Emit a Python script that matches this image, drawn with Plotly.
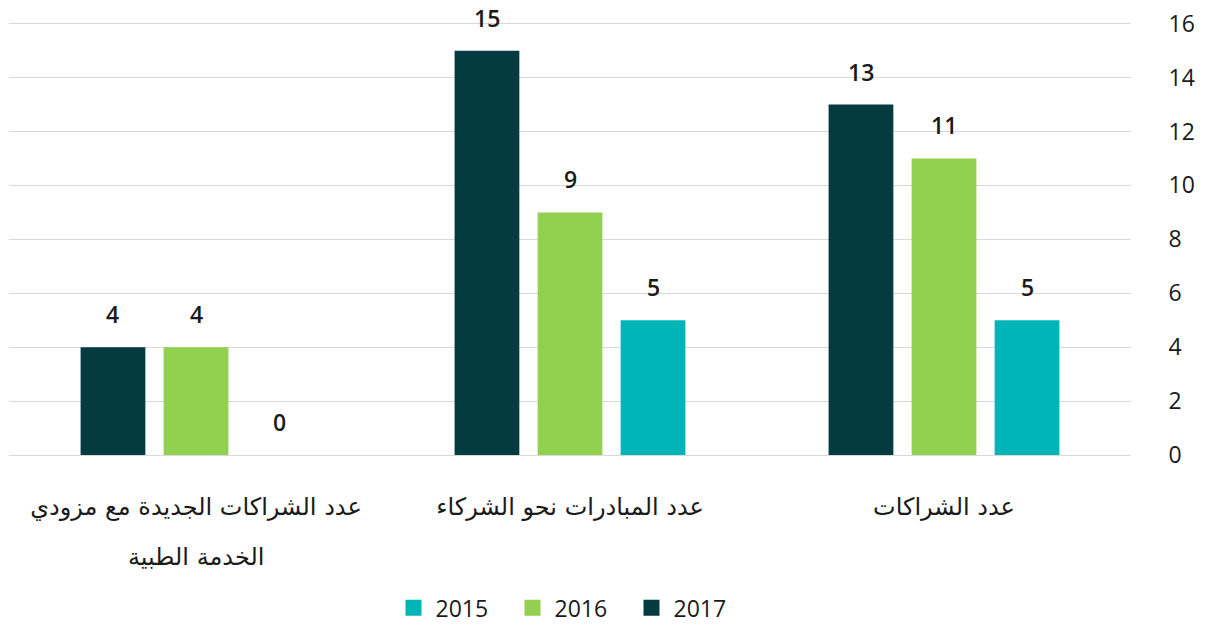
import plotly.graph_objects as go

categories = ["عدد الشراكات", "عدد المبادرات نحو الشركاء", "عدد الشراكات الجديدة مع مزودي<br>الخدمة الطبية"]
years = ["2015", "2016", "2017"]
values_2015 = [5, 5, 0]
values_2016 = [11, 9, 4]
values_2017 = [13, 15, 4]
y_ticks = [0, 2, 4, 6, 8, 10, 12, 14, 16]

series = {"2015": values_2015, "2016": values_2016, "2017": values_2017}
colors = {"2015": "#00b5b8", "2016": "#92d050", "2017": "#033b40"}

BARGAP = 0.334
n = len(years)
slot = (1 - BARGAP) / n

fig = go.Figure()
annotations = []
for k, yr in enumerate(years):
    fig.add_trace(go.Bar(
        x=list(range(len(categories))), y=series[yr], name=yr, showlegend=False,
        marker=dict(color=colors[yr], line=dict(width=0)),
    ))
    off = -(1 - BARGAP) / 2 + slot / 2 + k * slot
    for i, v in enumerate(series[yr]):
        annotations.append(dict(
            x=i + off, y=v, xref="x", yref="y", text=str(v), showarrow=False,
            yshift=33, font=dict(size=23, color="#1a1a1a", family="Open Sans", weight=600),
            yanchor="middle",
        ))

# legend entries with larger square swatches
for yr in years:
    fig.add_trace(go.Scatter(
        x=[None], y=[None], mode="markers", name=yr,
        marker=dict(symbol="square", size=20, color=colors[yr]),
    ))

# category labels: first line as tick text, following lines as annotations below
first_lines = [c.split("<br>")[0] for c in categories]
for i, c in enumerate(categories):
    for j, line in enumerate(c.split("<br>")[1:], start=1):
        annotations.append(dict(
            x=i, y=-0.236 - (j - 1) * 0.111, xref="x", yref="paper", text=line,
            showarrow=False, yanchor="middle",
            font=dict(size=24, color="#1a1a1a", family="DejaVu Sans"),
        ))

fig.update_layout(
    width=1197, height=617,
    margin=dict(l=1, r=74, t=13, b=170, autoexpand=False),
    paper_bgcolor="white", plot_bgcolor="white",
    barmode="group", bargap=BARGAP, bargroupgap=0.22,
    font=dict(family="Open Sans", color="#1a1a1a"),
    annotations=annotations,
    showlegend=True,
    legend=dict(orientation="h", x=0.5, y=-0.352, xanchor="center", yanchor="middle",
                font=dict(size=23, color="#1a1a1a", weight=500), itemwidth=34,
                entrywidth=70, entrywidthmode="pixels", traceorder="normal"),
    xaxis=dict(
        tickmode="array", tickvals=list(range(len(categories))), ticktext=first_lines,
        autorange=False, range=[2.5, -0.5], automargin=False,
        showgrid=False, showline=False, zeroline=False,
        ticks="outside", ticklen=30, tickcolor="rgba(0,0,0,0)",
        tickfont=dict(size=24, color="#1a1a1a", family="DejaVu Sans"),
    ),
    yaxis=dict(
        side="right", range=[0, 16.1], tickvals=y_ticks, ticktext=[str(t) for t in y_ticks],
        automargin=False, ticklabeloverflow="allow",
        showgrid=True, gridcolor="#d9d9d9", gridwidth=1,
        zeroline=True, zerolinecolor="#d9d9d9", zerolinewidth=1,
        showline=False, ticks="outside", ticklen=32, tickcolor="rgba(0,0,0,0)",
        tickfont=dict(size=23, color="#1a1a1a", weight=500),
    ),
)

fig.write_html("out.html")
